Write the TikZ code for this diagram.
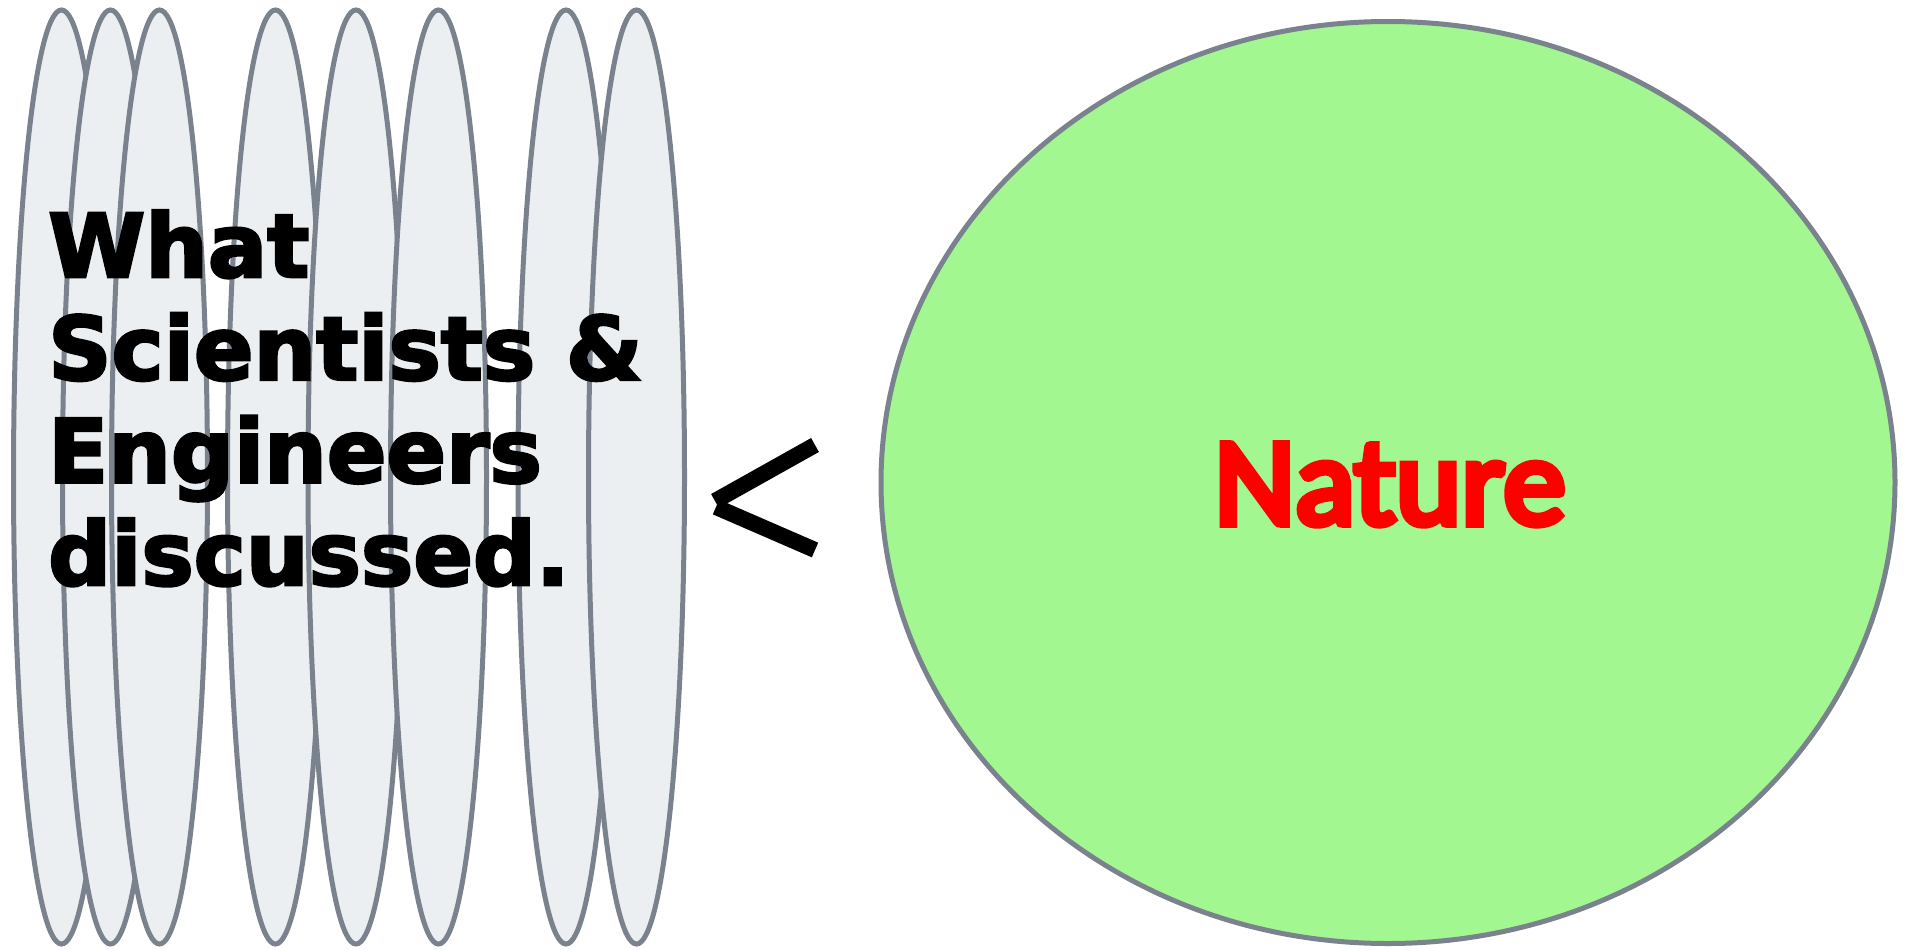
\documentclass[tikz,border=0pt]{standalone}
\usepackage{fontspec}
\newfontfamily\whatfont{DejaVu Sans Bold}[FakeBold=3]
\newfontfamily\natfont{Carlito}[FakeBold=6]
\definecolor{efill}{RGB}{235,239,242}
\definecolor{egray}{RGB}{122,131,141}
\definecolor{natgreen}{RGB}{163,247,145}
\definecolor{natred}{RGB}{255,0,0}
\begin{document}
\begin{tikzpicture}[x=1pt,y=-1pt,
  thin ellipse/.style={fill=efill,draw=egray,line width=5pt},
  big ellipse/.style={fill=natgreen,draw=egray,line width=5pt},
  lt stroke/.style={line width=16pt,black,line cap=butt}]
\useasboundingbox (0,0) rectangle (1906,950);
\foreach \cx [count=\i] in {61.5,110.5,159.5,275.5,356,438.5,566,636.5}{
  \draw[thin ellipse] (\cx,477) ellipse [x radius=48, y radius=467];
}
\draw[big ellipse] (1388,482.5) ellipse [x radius=507, y radius=461];
\node[inner sep=0pt,anchor=base,text=natred,font={\natfont\fontsize{125}{140}\selectfont}] (nature) at (1390,524) {Nature};
\node[inner sep=0pt,anchor=north west,align=left,font={\whatfont\fontsize{88}{102.7}\selectfont}] (what) at (48,210) {What\\Scientists \&\\Engineers\\discussed.};
\coordinate (lttop) at (815,445);
\coordinate (ltvtx1) at (715,501);
\coordinate (ltvtx2) at (716,507);
\coordinate (ltbot) at (815,550);
\draw[lt stroke] (lttop) -- (ltvtx1);
\draw[lt stroke] (ltvtx2) -- (ltbot);
\end{tikzpicture}
\end{document}
